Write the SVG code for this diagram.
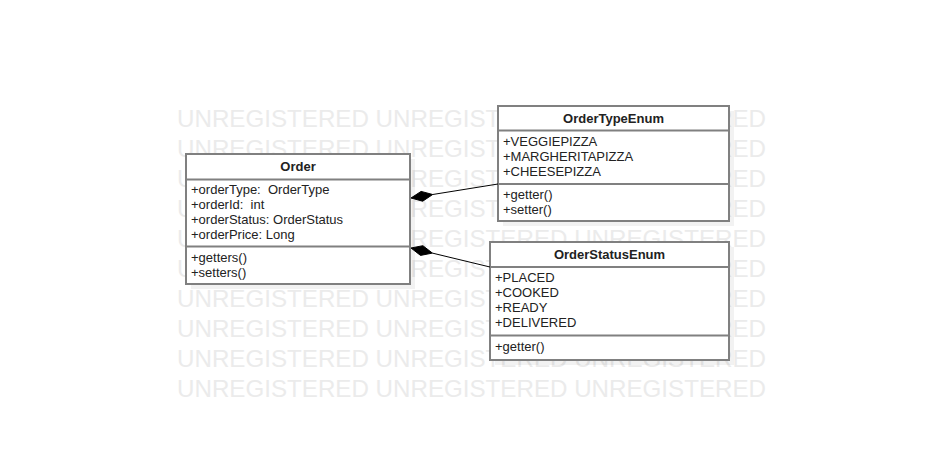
<svg xmlns="http://www.w3.org/2000/svg" width="934" height="460" viewBox="0 0 934 460">
<style>
.wm{font-family:"Liberation Sans",Arial,sans-serif;font-size:24px;fill:#ebebeb}
.box{fill:#fff;stroke:#808080;stroke-width:2}
.sep{stroke:#808080;stroke-width:2}
.sh{fill:#000;fill-opacity:0.05}
.t{font-family:"Liberation Sans",Arial,sans-serif;font-size:13px;fill:#222}
.h{font-family:"Liberation Sans",Arial,sans-serif;font-size:13px;font-weight:bold;fill:#222;text-anchor:middle}
.ln{stroke:#000;stroke-width:1;fill:none}
.dm{fill:#000;stroke:#000;stroke-width:1}
</style>
<rect width="934" height="460" fill="#fff"/>
<g id="watermark">
<text class="wm" x="177" y="127" textLength="589" lengthAdjust="spacingAndGlyphs">UNREGISTERED UNREGISTERED UNREGISTERED</text>
<text class="wm" x="177" y="157" textLength="589" lengthAdjust="spacingAndGlyphs">UNREGISTERED UNREGISTERED UNREGISTERED</text>
<text class="wm" x="177" y="187" textLength="589" lengthAdjust="spacingAndGlyphs">UNREGISTERED UNREGISTERED UNREGISTERED</text>
<text class="wm" x="177" y="217" textLength="589" lengthAdjust="spacingAndGlyphs">UNREGISTERED UNREGISTERED UNREGISTERED</text>
<text class="wm" x="177" y="247" textLength="589" lengthAdjust="spacingAndGlyphs">UNREGISTERED UNREGISTERED UNREGISTERED</text>
<text class="wm" x="177" y="277" textLength="589" lengthAdjust="spacingAndGlyphs">UNREGISTERED UNREGISTERED UNREGISTERED</text>
<text class="wm" x="177" y="307" textLength="589" lengthAdjust="spacingAndGlyphs">UNREGISTERED UNREGISTERED UNREGISTERED</text>
<text class="wm" x="177" y="337" textLength="589" lengthAdjust="spacingAndGlyphs">UNREGISTERED UNREGISTERED UNREGISTERED</text>
<text class="wm" x="177" y="367" textLength="589" lengthAdjust="spacingAndGlyphs">UNREGISTERED UNREGISTERED UNREGISTERED</text>
<text class="wm" x="177" y="397" textLength="589" lengthAdjust="spacingAndGlyphs">UNREGISTERED UNREGISTERED UNREGISTERED</text>
</g>
<g id="Order">
<rect class="sh" x="191" y="159" width="224" height="130"/>
<rect class="box" x="186" y="154" width="224" height="130"/>
<line class="sep" x1="186" y1="179.5" x2="410" y2="179.5"/>
<line class="sep" x1="186" y1="246.5" x2="410" y2="246.5"/>
<text class="h" x="298" y="171">Order</text>
<text class="t" x="191" y="194" xml:space="preserve">+orderType:  OrderType</text>
<text class="t" x="191" y="209" xml:space="preserve">+orderId:  int</text>
<text class="t" x="191" y="224">+orderStatus: OrderStatus</text>
<text class="t" x="191" y="239">+orderPrice: Long</text>
<text class="t" x="191" y="262">+getters()</text>
<text class="t" x="191" y="277">+setters()</text>
</g>
<g id="OrderTypeEnum">
<rect class="sh" x="503" y="111" width="231" height="115"/>
<rect class="box" x="498" y="106" width="231" height="115"/>
<line class="sep" x1="498" y1="130.5" x2="729" y2="130.5"/>
<line class="sep" x1="498" y1="184" x2="729" y2="184"/>
<text class="h" x="613.5" y="123">OrderTypeEnum</text>
<text class="t" x="503" y="146">+VEGGIEPIZZA</text>
<text class="t" x="503" y="161">+MARGHERITAPIZZA</text>
<text class="t" x="503" y="176">+CHEESEPIZZA</text>
<text class="t" x="503" y="199">+getter()</text>
<text class="t" x="503" y="214">+setter()</text>
</g>
<g id="OrderStatusEnum">
<rect class="sh" x="495" y="247" width="239" height="118"/>
<rect class="box" x="490" y="242" width="239" height="118"/>
<line class="sep" x1="490" y1="267" x2="729" y2="267"/>
<line class="sep" x1="490" y1="335.5" x2="729" y2="335.5"/>
<text class="h" x="609.5" y="259">OrderStatusEnum</text>
<text class="t" x="495" y="282">+PLACED</text>
<text class="t" x="495" y="297">+COOKED</text>
<text class="t" x="495" y="312">+READY</text>
<text class="t" x="495" y="327">+DELIVERED</text>
<text class="t" x="495" y="351">+getter()</text>
</g>
<g id="connectors">
<line class="ln" x1="498" y1="184" x2="432.7" y2="194.5"/>
<polygon class="dm" points="411,198 422.7,201.2 432.7,194.5 421.1,191.4"/>
<line class="ln" x1="490" y1="267" x2="432.4" y2="253.1"/>
<polygon class="dm" points="411,248 420.5,255.4 432.4,253.1 422.9,245.7"/>
</g>
</svg>
